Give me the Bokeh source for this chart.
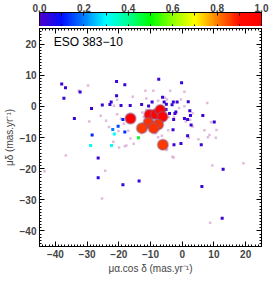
import numpy as np
from bokeh.plotting import figure
from bokeh.layouts import column
from bokeh.models import LinearAxis, FixedTicker, Label, LinearColorMapper, ColumnDataSource
from bokeh.embed import file_html
from bokeh.resources import INLINE

# ---------------- data ----------------
title_text = "ESO 383\u221210"
cbar_ticks = [0.0, 0.2, 0.4, 0.6, 0.8, 1.0]
x_ticks = [-40, -30, -20, -10, 0, 10, 20]
y_ticks = [-40, -30, -20, -10, 0, 10, 20]

# members (large circles)
big_pmra = [-16.3, -10.3, -8.3, -6.9, -6.2, -10.6, -7.6, -12.7, -9.0, -6.1]
big_pmdec = [-3.9, -2.7, -2.5, -1.2, -3.3, -5.3, -5.8, -7.0, -7.0, -12.3]
big_prob = [1.0, 0.98, 0.98, 1.0, 0.98, 0.87, 0.87, 0.86, 0.87, 0.86]

# coloured small stars
dot_pmra = [-38.0, -36.8, -37.3, -32.2, -28.6, -34.0, -25.2, -22.8, -22.4, -20.7, -20.7, -18.1, -19.3,
            -18.7, -20.2, -21.9, -18.1, -21.4, -28.4, -28.9, -22.3, -13.8, -9.4,
            -26.5, -26.5, -18.7, -13.6, 6.2, 12.9, 12.6,
            -7.4, -0.2, -6.2, -5.7, -5.0, -2.8, -1.6, 1.9, -3.2, -12.8, -10.6, -16.4, -9.5,
            -5.1, -4.0, -2.3, -2.0, 2.4, 6.5, 2.6, -2.7, 0.7, 1.7, 10.1, 2.8, -2.9, 1.7,
            -2.6, -0.4, 6.0]
dot_pmdec = [7.2, 6.0, 2.6, 4.6, -0.7, -3.9, 0.4, 0.6, 1.4, 3.4, 8.0, 6.9, 0.3,
             -4.2, -6.4, -7.4, -8.2, -8.9, -9.2, -12.6, -12.6, -10.1, -5.1,
             -16.6, -22.9, -25.2, -24.0, -25.7, -20.2, -35.9,
             8.7, 7.6, 2.9, 1.4, 0.7, 1.4, 1.4, 1.5, 0.5, 0.6, 0.1, 0.3, 1.4,
             -1.0, -2.3, -2.3, -1.8, -1.4, -2.9, -2.9, -4.2, -3.9, -4.2, -5.0, -6.0, -7.5, -9.4,
             -12.3, -11.9, -12.3]
dot_prob = [0.03, 0.03, 0.03, 0.03, 0.03, 0.03, 0.03, 0.03, 0.03, 0.03, 0.03, 0.03, 0.03,
            0.12, 0.15, 0.2, 0.13, 0.3, 0.12, 0.3, 0.3, 0.47, 0.25,
            0.03, 0.05, 0.05, 0.03, 0.03, 0.03, 0.03,
            0.03, 0.03, 0.03, 0.03, 0.03, 0.03, 0.03, 0.03, 0.03, 0.03, 0.03, 0.03, 0.03,
            0.03, 0.03, 0.03, 0.03, 0.03, 0.03, 0.03, 0.03, 0.03, 0.03, 0.03, 0.03, 0.03, 0.03,
            0.03, 0.03, 0.03]

# faint field stars
faint_pmra = [-32.6, -20.5, -21.5, -20.5, -19.3, -24.0, -29.3, -25.7, -18.4, -23.1, -21.7, -19.9,
              -18.1, -17.6, -15.6, -17.0, -20.1, -36.7, -29.7, -43.4, -24.3, -25.3, -5.0, -2.7,
              9.5, 19.3, 8.8, -11.6, -9.1, -3.8, 0.7, -11.3, -5.4, -4.8, -7.6, -1.0, 0.7, 7.9,
              -0.4, -11.3, -12.6, -12.1, -11.9, -4.3, -2.6, 1.1, 2.5, 9.1, 3.3, -4.4, -6.4, 7.0,
              10.8, 8.6, 10.6, 8.1, 2.1, -7.6, -5.9, -4.8, -3.1, -15.3, -16.3, 5.1, -8.3, 3.3]
faint_pmdec = [5.0, 2.1, 0.2, -2.5, -4.0, -4.6, -4.9, -3.0, -5.6, -6.6, -11.4, -13.2,
               -12.8, -12.6, 3.1, -7.8, -7.9, -15.8, 6.7, -20.8, -20.7, -29.6, -14.0, -16.4,
               -19.0, -18.3, -37.4, 5.0, 5.0, 5.0, 4.7, 2.5, 2.8, 2.2, 1.8, -0.5, 0.0, 1.1,
               2.2, -1.2, -2.0, -3.4, -4.4, -3.4, -3.4, -4.9, -4.3, -5.1, -6.5, -7.7, -9.4, -7.7,
               -7.6, -9.2, -10.1, -9.9, -10.1, -9.9, -12.6, -13.8, -16.2, -12.0, -10.3, -10.6, -8.6, -2.2]

# ---------------- colour table (IDL-like rainbow) ----------------
anchor_v = [0.0, 0.1, 0.2, 0.3, 0.4, 0.5, 0.6, 0.7, 0.8, 0.9, 1.0]
anchor_c = ["#5000c8", "#0010ff", "#0080ff", "#00ffff", "#00ff90", "#00ff00",
            "#90ff00", "#ffff00", "#ff8000", "#ff1000", "#ff0000"]


def hex2rgb(h):
    return [int(h[i:i + 2], 16) for i in (1, 3, 5)]


arr = np.array([hex2rgb(c) for c in anchor_c], dtype=float)
vv = np.linspace(0, 1, 256)
palette = []
for v in vv:
    r = np.interp(v, anchor_v, arr[:, 0])
    g = np.interp(v, anchor_v, arr[:, 1])
    b = np.interp(v, anchor_v, arr[:, 2])
    palette.append("#%02x%02x%02x" % (int(round(r)), int(round(g)), int(round(b))))

mapper = LinearColorMapper(palette=palette, low=0.0, high=1.0)

FONT = "Liberation Sans"


def hidden_axis(ticks, minor=None, tin=5, min_in=2):
    return LinearAxis(ticker=FixedTicker(ticks=ticks, minor_ticks=minor or []),
                      major_tick_in=tin, major_tick_out=0,
                      minor_tick_in=min_in, minor_tick_out=0,
                      major_label_text_font_size="1px", major_label_text_color=None,
                      major_label_standoff=0)


# ---------------- colour bar figure ----------------
cb = figure(width=269, height=26, x_range=(0, 1), y_range=(0, 1),
            x_axis_location="above", y_axis_location=None,
            toolbar_location=None, output_backend="svg",
            min_border_left=25, min_border_right=0, min_border_top=1, min_border_bottom=0)
cb.image(image=[vv.reshape(1, 256)], x=0, y=0, dw=1, dh=1, color_mapper=mapper)
cb.xgrid.visible = False
cb.ygrid.visible = False
cb.outline_line_color = "black"
cb.outline_line_width = 1
ax = cb.xaxis[0]
ax.ticker = FixedTicker(ticks=cbar_ticks, minor_ticks=[0.1, 0.3, 0.5, 0.7, 0.9])
ax.major_label_overrides = {t: "%.1f" % t for t in cbar_ticks}
ax.major_tick_in = 3
ax.major_tick_out = 0
ax.minor_tick_in = 3
ax.minor_tick_out = 0
ax.major_label_standoff = 1
ax.major_label_text_font = FONT
ax.major_label_text_font_size = "10px"
ax.major_label_text_font_style = "bold"
ax.axis_line_color = "black"
cb.add_layout(hidden_axis([i / 10 for i in range(11)], tin=2, min_in=0), "below")

# ---------------- main figure ----------------
p = figure(width=269, height=250, x_range=(-45, 25), y_range=(-45, 25),
           toolbar_location=None, output_backend="svg",
           min_border_left=25, min_border_right=8, min_border_top=2, min_border_bottom=24)
p.xgrid.visible = False
p.ygrid.visible = False
p.outline_line_color = "black"
p.outline_line_width = 1

p.scatter(faint_pmra, faint_pmdec, marker="square", size=2.5,
          fill_color="#d8a4d0", line_color=None, fill_alpha=0.75)

dsrc = ColumnDataSource(dict(x=dot_pmra, y=dot_pmdec, c=dot_prob))
p.scatter("x", "y", source=dsrc, marker="square", size=3,
          fill_color={"field": "c", "transform": mapper}, line_color=None)

bsrc = ColumnDataSource(dict(x=big_pmra, y=big_pmdec, c=big_prob))
p.scatter("x", "y", source=bsrc, marker="circle", size=10.5,
          fill_color={"field": "c", "transform": mapper},
          line_color="#8a5a8a", line_alpha=0.45, line_width=2)

for a in (p.xaxis[0], p.yaxis[0]):
    a.major_tick_in = 5
    a.major_tick_out = 0
    a.minor_tick_in = 2
    a.minor_tick_out = 0
    a.major_label_standoff = 3
    a.major_label_text_font = FONT
    a.major_label_text_font_size = "10px"
    a.major_label_text_font_style = "bold"
    a.axis_label_text_font = FONT
    a.axis_label_text_font_size = "10px"
    a.axis_label_text_font_style = "normal"
    a.axis_label_standoff = 2
minor = list(range(-45, 26, 1))
p.xaxis[0].ticker = FixedTicker(ticks=x_ticks, minor_ticks=minor)
p.yaxis[0].ticker = FixedTicker(ticks=y_ticks, minor_ticks=minor)
p.xaxis[0].major_label_overrides = {t: str(t).replace("-", "\u2212") for t in x_ticks}
p.yaxis[0].major_label_overrides = {t: str(t).replace("-", "\u2212") for t in y_ticks}
p.xaxis[0].axis_label = "\u03bc\u03b1.cos \u03b4 (mas.yr\u207b\u00b9)"
p.yaxis[0].axis_label = "\u03bc\u03b4 (mas.yr\u207b\u00b9)"

p.add_layout(hidden_axis(x_ticks, minor), "above")
p.add_layout(hidden_axis(y_ticks, minor), "right")

p.add_layout(Label(x=-40.5, y=20.7, text=title_text, text_font=FONT,
                   text_font_size="12px", text_baseline="middle", text_color="black"))

layout = column(cb, p, spacing=0)
open("out.html", "w").write(file_html(layout, INLINE))
